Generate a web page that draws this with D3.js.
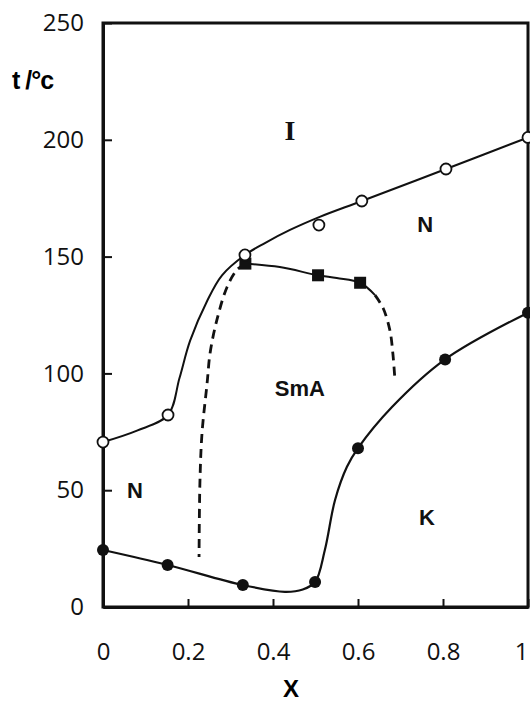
<!DOCTYPE html>
<html>
<head>
<meta charset="utf-8">
<script src="https://cdn.jsdelivr.net/npm/d3@7.9.0/dist/d3.min.js"></script>
<style>
  body { margin: 0; background: #fff; }
  svg { display: block; }
  .tick text { font-family: "Open Sans", sans-serif; font-size: 24px; fill: #111; }
  .phase { font-family: "Liberation Sans", Arial, sans-serif; font-weight: bold; font-size: 22px; fill: #111; }
</style>
</head>
<body>
<svg id="chart" width="530" height="703"></svg>
<script>
// x = mole fraction, t in °C
const xTicks = [0, 0.2, 0.4, 0.6, 0.8, 1];
const yTicks = [0, 50, 100, 150, 200, 250];

// measured points
const clearX = [0, 0.153, 0.334, 0.508, 0.609, 0.807, 1];
const clearT = [70.6, 82.2, 150.7, 163.5, 173.8, 187.5, 201];
const smaX = [0.335, 0.506, 0.605];
const smaT = [147, 142, 138.8];
const meltX = [0, 0.152, 0.329, 0.499, 0.6, 0.805, 1];
const meltT = [24.4, 18, 9.4, 10.7, 68, 106, 126];

// hand-drawn boundary lines
const clearLine = [[0, 70.6], [0.08, 75.5], [0.153, 82.2], [0.18, 98], [0.205, 114], [0.245, 131],
  [0.28, 142], [0.334, 150.7], [0.381, 155.8], [0.44, 161.4], [0.51, 167], [0.609, 173.8], [0.807, 187.5], [1, 201]];
const smaLine = [[0.335, 147], [0.416, 145.5], [0.506, 142], [0.55, 140.8], [0.605, 138.8], [0.64, 133.5]];
const smaDashRight = [[0.64, 133.5], [0.659, 128], [0.675, 118.5], [0.682, 108.6], [0.687, 97]];
const smaDashLeft = [[0.335, 147], [0.315, 144.3], [0.292, 137], [0.268, 122.9], [0.252, 108.7],
  [0.245, 95.9], [0.233, 74.5], [0.228, 53], [0.226, 21.4]];
const meltLine = [[0, 24.4], [0.152, 18], [0.329, 9.4], [0.428, 6.5], [0.47, 7.5], [0.499, 10.7],
  [0.522, 24.4], [0.546, 45.8], [0.574, 60], [0.6, 68], [0.68, 85.6], [0.805, 106], [1, 126]];

const phaseNames = ['I', 'N', 'N', 'SmA', 'K'];
const phaseX = [0.44, 0.758, 0.075, 0.463, 0.762];
const phaseT = [204, 164, 50, 93.7, 38.5];

const svg = d3.select('#chart');
const x = d3.scaleLinear().domain([0, 1]).range([103, 528]);
const y = d3.scaleLinear().domain([0, 250]).range([607, 23]);

// frame
svg.append('rect')
  .attr('x', x(0)).attr('y', y(250))
  .attr('width', x(1) - x(0)).attr('height', y(0) - y(250))
  .attr('fill', 'none').attr('stroke', '#111').attr('stroke-width', 3);

let xAxis = svg.append('g')
  .attr('transform', `translate(0,${y(0)})`)
  .call(d3.axisBottom(x).tickValues(xTicks).tickSizeInner(-8).tickSizeOuter(0).tickPadding(36)
    .tickFormat((d) => String(d)));
// last label sits on the right edge, nudge it in
xAxis.selectAll('.tick text').attr('dx', (d) => d === 1 ? -7 : 0);
let yAxis = svg.append('g')
  .attr('transform', `translate(${x(0)},0)`)
  .call(d3.axisLeft(y).tickValues(yTicks).tickSizeInner(-9).tickSizeOuter(0).tickPadding(19));
[xAxis, yAxis].forEach((g) => {
  g.select('.domain').attr('stroke', '#111').attr('stroke-width', 3);
  g.selectAll('.tick line').attr('stroke', '#111').attr('stroke-width', 2);
});

// boundary lines
let line = d3.line().x((d) => x(d[0])).y((d) => y(d[1])).curve(d3.curveCatmullRom.alpha(0.5));
svg.append('path').attr('d', line(clearLine)).attr('fill', 'none').attr('stroke', '#111').attr('stroke-width', 2);
svg.append('path').attr('d', line(smaLine)).attr('fill', 'none').attr('stroke', '#111').attr('stroke-width', 2);
svg.append('path').attr('d', line(meltLine)).attr('fill', 'none').attr('stroke', '#111').attr('stroke-width', 2.2);
[smaDashLeft, smaDashRight].forEach((pts) => {
  svg.append('path').attr('d', line(pts)).attr('fill', 'none').attr('stroke', '#111')
    .attr('stroke-width', 2.8).attr('stroke-dasharray', '9,6');
});

// markers
svg.selectAll('.sq').data(smaX).join('rect')
  .attr('x', (d) => x(d) - 6).attr('y', (d, i) => y(smaT[i]) - 6)
  .attr('width', 12).attr('height', 12).attr('fill', '#111');
svg.selectAll('.open').data(clearX).join('circle')
  .attr('cx', (d) => x(d)).attr('cy', (d, i) => y(clearT[i])).attr('r', 5.5)
  .attr('fill', '#fff').attr('stroke', '#111').attr('stroke-width', 1.8);
svg.selectAll('.filled').data(meltX).join('circle')
  .attr('cx', (d) => x(d)).attr('cy', (d, i) => y(meltT[i])).attr('r', 6)
  .attr('fill', '#111');

// phase labels
phaseNames.forEach((name, i) => {
  let t = svg.append('text').attr('class', 'phase')
    .attr('x', x(phaseX[i])).attr('y', y(phaseT[i])).attr('dy', '0.35em')
    .attr('text-anchor', 'middle').text(name);
  if (name === 'I') {
    t.style('font-family', '"Liberation Serif", serif').style('font-size', '28px');
  }
});

// axis titles
svg.append('text').attr('x', 12).attr('y', 89)
  .style('font-family', '"Liberation Sans", Arial, sans-serif').style('font-weight', 'bold').style('font-size', '25px')
  .style('letter-spacing', '-1px').text('t /°c');
svg.append('text').attr('x', 291).attr('y', 697)
  .attr('text-anchor', 'middle')
  .style('font-family', '"Liberation Sans", Arial, sans-serif').style('font-weight', 'bold').style('font-size', '24px')
  .text('X');
</script>
</body>
</html>
